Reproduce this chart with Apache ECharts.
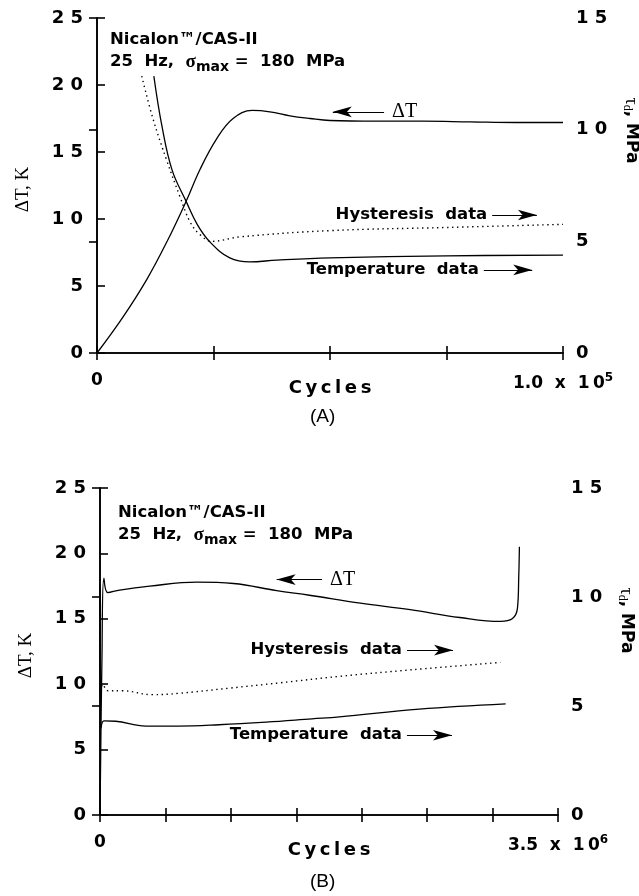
<!DOCTYPE html>
<html>
<head>
<meta charset="utf-8">
<title>Nicalon/CAS-II: ΔT and damping vs cycles</title>
<script src="https://cdn.jsdelivr.net/npm/echarts@6/dist/echarts.min.js"></script>
<style>
  html, body { margin: 0; padding: 0; background: #fff; }
  #chart { width: 639px; height: 896px; }
</style>
</head>
<body>
<div id="chart"></div>
<script>
// (A) first 1.0 x 10^5 cycles  -- [cycles, value]
var deltaTA = [[0, 0], [5600, 2.7], [10700, 5.5], [15000, 8.3], [19100, 11.3], [22100, 13.7], [25700, 16.0],
  [29200, 17.5], [33300, 18.1], [37100, 18.0], [41400, 17.7], [45700, 17.5], [50000, 17.35], [60000, 17.3],
  [70000, 17.3], [80000, 17.25], [90000, 17.2], [100000, 17.2]];               // ΔT, K (left axis)
var tempA = [[12200, 12.4], [13900, 10.2], [16100, 8.2], [19100, 6.8], [21500, 5.76], [24200, 4.98],
  [28500, 4.26], [32800, 4.08], [38600, 4.16], [50000, 4.26], [75000, 4.35], [100000, 4.38]];   // τd, MPa
var hystA = [[9600, 12.4], [12000, 10.5], [15000, 8.6], [17800, 7.0], [20000, 5.86], [22100, 5.3],
  [24700, 5.0], [30700, 5.2], [50000, 5.48], [75000, 5.62], [100000, 5.76]];                     // τd, MPa

// (B) full life, 3.5 x 10^6 cycles
var deltaTB = [[0, 0], [15000, 12], [30000, 18.1], [60000, 17.0], [150000, 17.2], [380000, 17.5],
  [740000, 17.8], [1020000, 17.7], [1350000, 17.15], [1600000, 16.8], [1990000, 16.2], [2370000, 15.7],
  [2750000, 15.1], [3060000, 14.8], [3150000, 15.0], [3190000, 15.8], [3200000, 18.2], [3205000, 20.5]];
var tempB = [[0, 10.5], [8000, 4.0], [30000, 4.32], [120000, 4.3], [350000, 4.08], [600000, 4.08],
  [910000, 4.14], [1270000, 4.26], [1620000, 4.41], [1830000, 4.5], [2440000, 4.86], [3100000, 5.1]];
var hystB = [[0, 10.8], [8000, 5.6], [20000, 6.0], [60000, 5.7], [170000, 5.7], [400000, 5.52],
  [600000, 5.58], [990000, 5.82], [1370000, 6.06], [1830000, 6.36], [2380000, 6.66], [3060000, 7.0]];

var xMax = [100000, 3500000];
var xStep = [25000, 500000];
var xEndLabel = [['1.0', '5'], ['3.5', '6']];   // mantissa, exponent
var caption = ['(A)', '(B)'];

var bold = "'DejaVu Sans', Verdana, sans-serif";
var sans = "'Liberation Sans', Arial, Helvetica, sans-serif";
var serif = "'Liberation Serif', 'Times New Roman', serif";

function spaced(v) { return String(v).split('').join(' '); }

var black = { color: '#000', width: 1.6 };
var grids = [
  { left: 97, top: 18, width: 466, height: 335, outerBoundsMode: 'none' },
  { left: 100, top: 488, width: 458, height: 327, outerBoundsMode: 'none' }
];

var xAxes = [], yAxes = [], series = [], titles = [];

[0, 1].forEach(function (g) {
  var max = xMax[g];
  xAxes.push({
    gridIndex: g, type: 'value', position: 'bottom', min: 0, max: max, interval: xStep[g],
    axisLine: { lineStyle: black },
    axisTick: { inside: true, length: 7, lineStyle: black },
    splitLine: { show: false },
    axisLabel: {
      margin: 19, color: '#000',
      formatter: function (v) {
        if (v === 0) return '{n|0}';
        if (v === max) return '{n|' + xEndLabel[g][0] + '  x  1\u20090}{s|' + xEndLabel[g][1] + '}';
        return '';
      },
      rich: {
        n: { fontFamily: bold, fontWeight: 'bold', fontSize: 17, color: '#000' },
        s: { fontFamily: bold, fontWeight: 'bold', fontSize: 12, color: '#000', padding: [0, 0, 12, 0] }
      }
    },
    name: 'C\u2009y\u2009c\u2009l\u2009e\u2009s', nameLocation: 'middle', nameGap: 26, nameMoveOverlap: false,
    nameTextStyle: { fontFamily: bold, fontWeight: 'bold', fontSize: 18, color: '#000' }
  });
  xAxes.push({
    gridIndex: g, type: 'value', position: 'top', min: 0, max: max, interval: xStep[g],
    axisLine: { lineStyle: black },
    axisTick: { inside: true, length: 7, lineStyle: black },
    axisLabel: { show: false }, splitLine: { show: false }
  });
  yAxes.push({
    gridIndex: g, type: 'value', position: 'left', min: 0, max: 25, interval: 5,
    axisLine: { lineStyle: black },
    axisTick: { inside: true, length: 8, lineStyle: black },
    splitLine: { show: false },
    axisLabel: { margin: 14, color: '#000', fontFamily: bold, fontWeight: 'bold', fontSize: 18, formatter: spaced },
    name: 'ΔT, K', nameLocation: 'middle', nameRotate: 90, nameGap: 64, nameMoveOverlap: false,
    nameTextStyle: { fontFamily: serif, fontSize: 19, color: '#000', padding: [0, 8, 0, 0] }
  });
  yAxes.push({
    gridIndex: g, type: 'value', position: 'right', min: 0, max: 15, interval: 5,
    axisLine: { lineStyle: black },
    axisTick: { inside: true, length: 8, lineStyle: black },
    splitLine: { show: false },
    axisLabel: { margin: 13, color: '#000', fontFamily: bold, fontWeight: 'bold', fontSize: 18, formatter: spaced },
    name: '{t|τ}{d|d}{m|, MPa}', nameLocation: 'middle', nameRotate: -90, nameGap: 58, nameMoveOverlap: false,
    nameTextStyle: {
      padding: [0, g === 0 ? 110 : 62, 0, 0],
      rich: {
        t: { fontFamily: serif, fontSize: 18, color: '#000' },
        d: { fontFamily: serif, fontSize: 12, color: '#000', padding: [8, 0, 0, 0] },
        m: { fontFamily: bold, fontWeight: 'bold', fontSize: 17, color: '#000' }
      }
    }
  });
});

var lineSolid = { color: '#000', width: 1.3 };
var lineDot = { color: '#000', width: 1.4, type: [1.4, 3.6] };

function arrows(items) {
  return {
    silent: true, animation: false,
    symbol: ['none', 'arrow'], symbolSize: [8, 19],
    lineStyle: { color: '#000', width: 1.2, type: 'solid' },
    label: { show: true, position: 'start', distance: 5, color: '#000' },
    data: items.map(function (it) {
      var lab = it.serif
        ? { formatter: it.text, fontFamily: serif, fontWeight: 'normal', fontSize: 20, distance: 8 }
        : { formatter: it.text, fontFamily: bold, fontWeight: 'bold', fontSize: 16.5 };
      return [{ coord: it.from, label: lab }, { coord: it.to }];
    })
  };
}

series.push(
  { type: 'line', name: 'ΔT A', xAxisIndex: 0, yAxisIndex: 0, data: deltaTA, showSymbol: false, smooth: 0.4, lineStyle: lineSolid,
    markLine: arrows([
      { from: [61600, 18.0], to: [50600, 18.0], text: 'ΔT', serif: true },
      { from: [84800, 10.3], to: [94400, 10.3], text: 'Hysteresis  data' },
      { from: [83000, 6.2], to: [93400, 6.2], text: 'Temperature  data' }
    ]) },
  { type: 'line', name: 'Temperature A', xAxisIndex: 0, yAxisIndex: 1, data: tempA, showSymbol: false, smooth: 0.4, lineStyle: lineSolid },
  { type: 'line', name: 'Hysteresis A', xAxisIndex: 0, yAxisIndex: 1, data: hystA, showSymbol: false, smooth: 0.4, lineStyle: lineDot },
  { type: 'line', name: 'ΔT B', xAxisIndex: 2, yAxisIndex: 2, data: deltaTB, showSymbol: false, smooth: 0.4, lineStyle: lineSolid,
    markLine: arrows([
      { from: [1697000, 18.0], to: [1350000, 18.0], text: 'ΔT', serif: true },
      { from: [2346000, 12.6], to: [2698000, 12.6], text: 'Hysteresis  data' },
      { from: [2346000, 6.1], to: [2690000, 6.1], text: 'Temperature  data' }
    ]) },
  { type: 'line', name: 'Temperature B', xAxisIndex: 2, yAxisIndex: 3, data: tempB, showSymbol: false, smooth: 0.4, lineStyle: lineSolid },
  { type: 'line', name: 'Hysteresis B', xAxisIndex: 2, yAxisIndex: 3, data: hystB, showSymbol: false, smooth: 0.4, lineStyle: lineDot }
);

var noteRich = {
  b: { fontFamily: bold, fontWeight: 'bold', fontSize: 16.5, color: '#000', lineHeight: 22 },
  g: { fontFamily: serif, fontSize: 19, color: '#000', lineHeight: 22 },
  sub: { fontFamily: bold, fontWeight: 'bold', fontSize: 14, color: '#000', padding: [10, 0, 0, 0], lineHeight: 22 }
};
[[110, 29], [118, 502]].forEach(function (p, g) {
  titles.push({
    left: p[0], top: p[1], padding: 0,
    text: '{b|Nicalon™/CAS-II}\n{b|25  Hz,  }{g|σ}{sub|max}{b| =  180  MPa}',
    textStyle: { rich: noteRich }
  });
  titles.push({
    left: 310, top: g === 0 ? 407 : 872, padding: 0,
    text: caption[g],
    textStyle: { fontFamily: sans, fontWeight: 'normal', fontSize: 19, color: '#000' }
  });
});

var chart = echarts.init(document.getElementById('chart'), null, { renderer: 'canvas' });
chart.setOption({
  animation: false,
  backgroundColor: '#fff',
  title: titles,
  grid: grids,
  xAxis: xAxes,
  yAxis: yAxes,
  series: series
});
</script>
</body>
</html>
